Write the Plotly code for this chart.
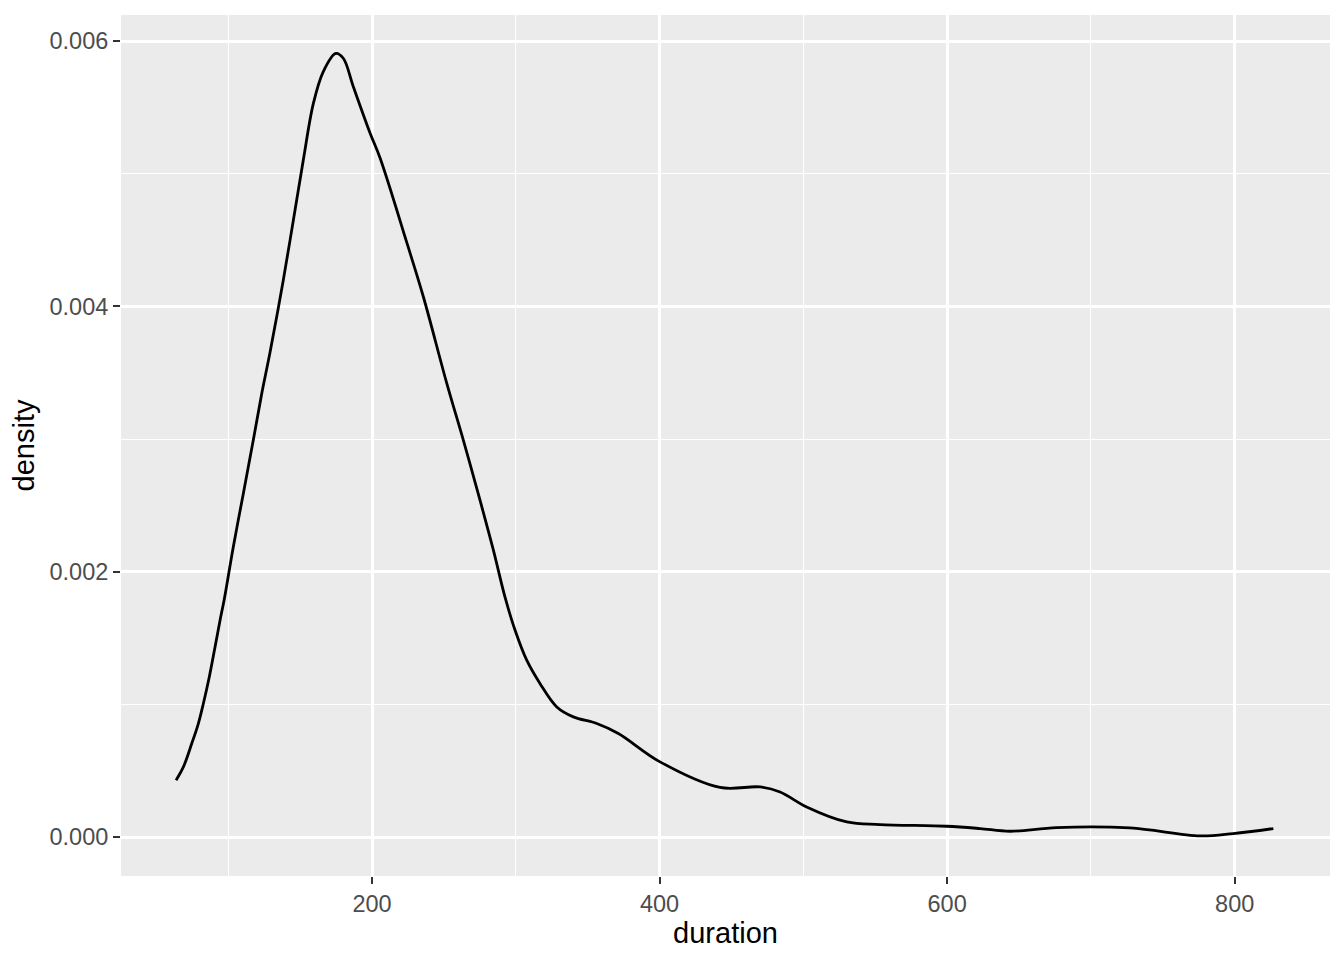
import plotly.graph_objects as go

duration = [63.7, 68.8, 74.6, 79.2, 82.7, 86.8, 90.8, 94.3, 97.1, 103.5, 110.5, 117.4,
            123.3, 129.1, 138.3, 145.3, 152.2, 159.2, 166.1, 174.8, 180.0, 187.0, 198.6,
            205.6, 224.1, 235.7, 252.0, 263.5, 275.1, 284.4, 292.5, 299.5, 307.6,
            316.8, 328.5, 340.0, 356.3, 371.3, 400.3, 442.0, 469.9, 483.8, 502.3, 530.2,
            553.3, 599.7, 622.9, 643.7, 676.2, 727.2, 775.9, 799.0, 826.9]
density = [0.000430, 0.000530, 0.000706, 0.000857, 0.001008, 0.001208, 0.001434, 0.001636,
           0.001786, 0.002188, 0.002591, 0.002992, 0.003344, 0.003656, 0.004199, 0.004651,
           0.005103, 0.005530, 0.005770, 0.005907, 0.005870, 0.005655, 0.005307, 0.005118,
           0.004484, 0.004073, 0.003420, 0.002992, 0.002540, 0.002163, 0.001809,
           0.001560, 0.001334, 0.001159, 0.000982, 0.000907, 0.000857, 0.000782, 0.000568,
           0.000375, 0.000379, 0.000341, 0.000228, 0.000115, 0.0000957, 0.0000829,
           0.0000656, 0.0000452, 0.0000731, 0.0000701, 0.0000098, 0.0000279, 0.0000656]

x_ticks = [200, 400, 600, 800]
x_minor = [100, 300, 500, 700]
y_ticks = [0.000, 0.002, 0.004, 0.006]
y_tick_text = ["0.000", "0.002", "0.004", "0.006"]
y_minor = [0.001, 0.003, 0.005]

fig = go.Figure()
fig.add_trace(go.Scatter(x=duration, y=density, mode="lines",
                         line=dict(color="black", width=2.8, shape="spline", smoothing=1.0),
                         showlegend=False, hoverinfo="skip"))

tick_font = dict(family="Liberation Sans, Arial, sans-serif", size=23.5, color="#4D4D4D")
title_font = dict(family="Liberation Sans, Arial, sans-serif", size=29, color="black")

fig.update_layout(
    width=1328, height=944,
    margin=dict(l=113, r=6, t=7, b=76),
    paper_bgcolor="white",
    plot_bgcolor="#EBEBEB",
    xaxis=dict(
        range=[25.4, 866.3],
        tickvals=x_ticks,
        ticktext=[str(v) for v in x_ticks],
        ticks="outside", ticklen=7, tickwidth=2, tickcolor="#333333",
        tickfont=tick_font,
        showgrid=True, gridcolor="white", gridwidth=2.8,
        zeroline=False, showline=False,
        minor=dict(tickvals=x_minor, showgrid=True, gridcolor="white",
                   gridwidth=1.4, ticks=""),
        title=dict(text="duration", font=title_font, standoff=6),
    ),
    yaxis=dict(
        range=[-0.000292, 0.006196],
        tickvals=y_ticks,
        ticktext=y_tick_text,
        ticks="outside", ticklen=7, tickwidth=2, tickcolor="#333333",
        tickfont=tick_font,
        showgrid=True, gridcolor="white", gridwidth=2.8,
        zeroline=False, showline=False,
        minor=dict(tickvals=y_minor, showgrid=True, gridcolor="white",
                   gridwidth=1.4, ticks=""),
        title=dict(text="density", font=title_font, standoff=8),
    ),
)

fig.write_html("out.html")
